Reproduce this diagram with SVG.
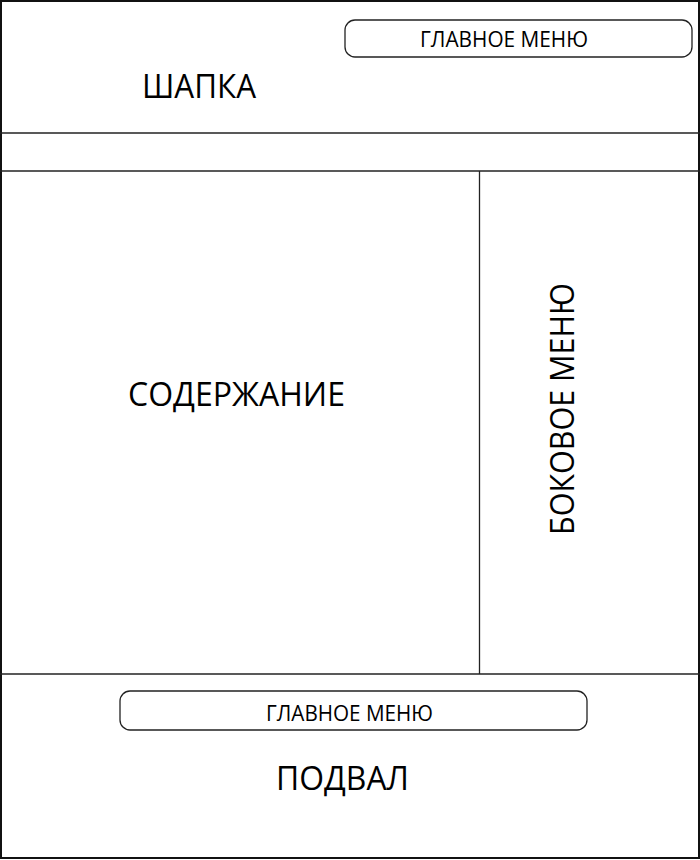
<svg xmlns="http://www.w3.org/2000/svg" width="700" height="860" viewBox="0 0 700 860">
<style>
.ln{stroke:#222;stroke-width:1.3;fill:none}
.pill{fill:#fff;stroke:#222;stroke-width:1.3}
.t{font-family:"Open Sans","Liberation Sans",sans-serif;fill:#000;text-anchor:middle}
</style>
<rect x="0" y="0" width="700" height="860" fill="#fff"/>
<g id="frame"><rect x="1" y="1" width="698" height="857" fill="none" stroke="#111" stroke-width="2"/></g>
<g id="connectors">
<line class="ln" x1="0" y1="133" x2="700" y2="133"/>
<line class="ln" x1="0" y1="171" x2="700" y2="171"/>
<line class="ln" x1="0" y1="674" x2="700" y2="674"/>
<line class="ln" x1="479.5" y1="171" x2="479.5" y2="674"/>
</g>
<g id="header"><text class="t" x="199" y="98" font-size="32" textLength="114" lengthAdjust="spacingAndGlyphs">ШАПКА</text></g>
<g id="top-menu"><rect class="pill" x="345" y="20" width="347" height="37" rx="10"/><text class="t" x="504" y="47" font-size="21" textLength="168" lengthAdjust="spacingAndGlyphs">ГЛАВНОЕ МЕНЮ</text></g>
<g id="content"><text class="t" x="236.5" y="406" font-size="32" textLength="217" lengthAdjust="spacingAndGlyphs">СОДЕРЖАНИЕ</text></g>
<g id="sidebar"><text class="t" transform="translate(574,409) rotate(-90)" x="0" y="0" font-size="32" textLength="252" lengthAdjust="spacingAndGlyphs">БОКОВОЕ МЕНЮ</text></g>
<g id="bottom-menu"><rect class="pill" x="120" y="691" width="467" height="39" rx="10"/><text class="t" x="349.5" y="721" font-size="21" textLength="167" lengthAdjust="spacingAndGlyphs">ГЛАВНОЕ МЕНЮ</text></g>
<g id="footer"><text class="t" x="342.5" y="790" font-size="32" textLength="133" lengthAdjust="spacingAndGlyphs">ПОДВАЛ</text></g>
</svg>
